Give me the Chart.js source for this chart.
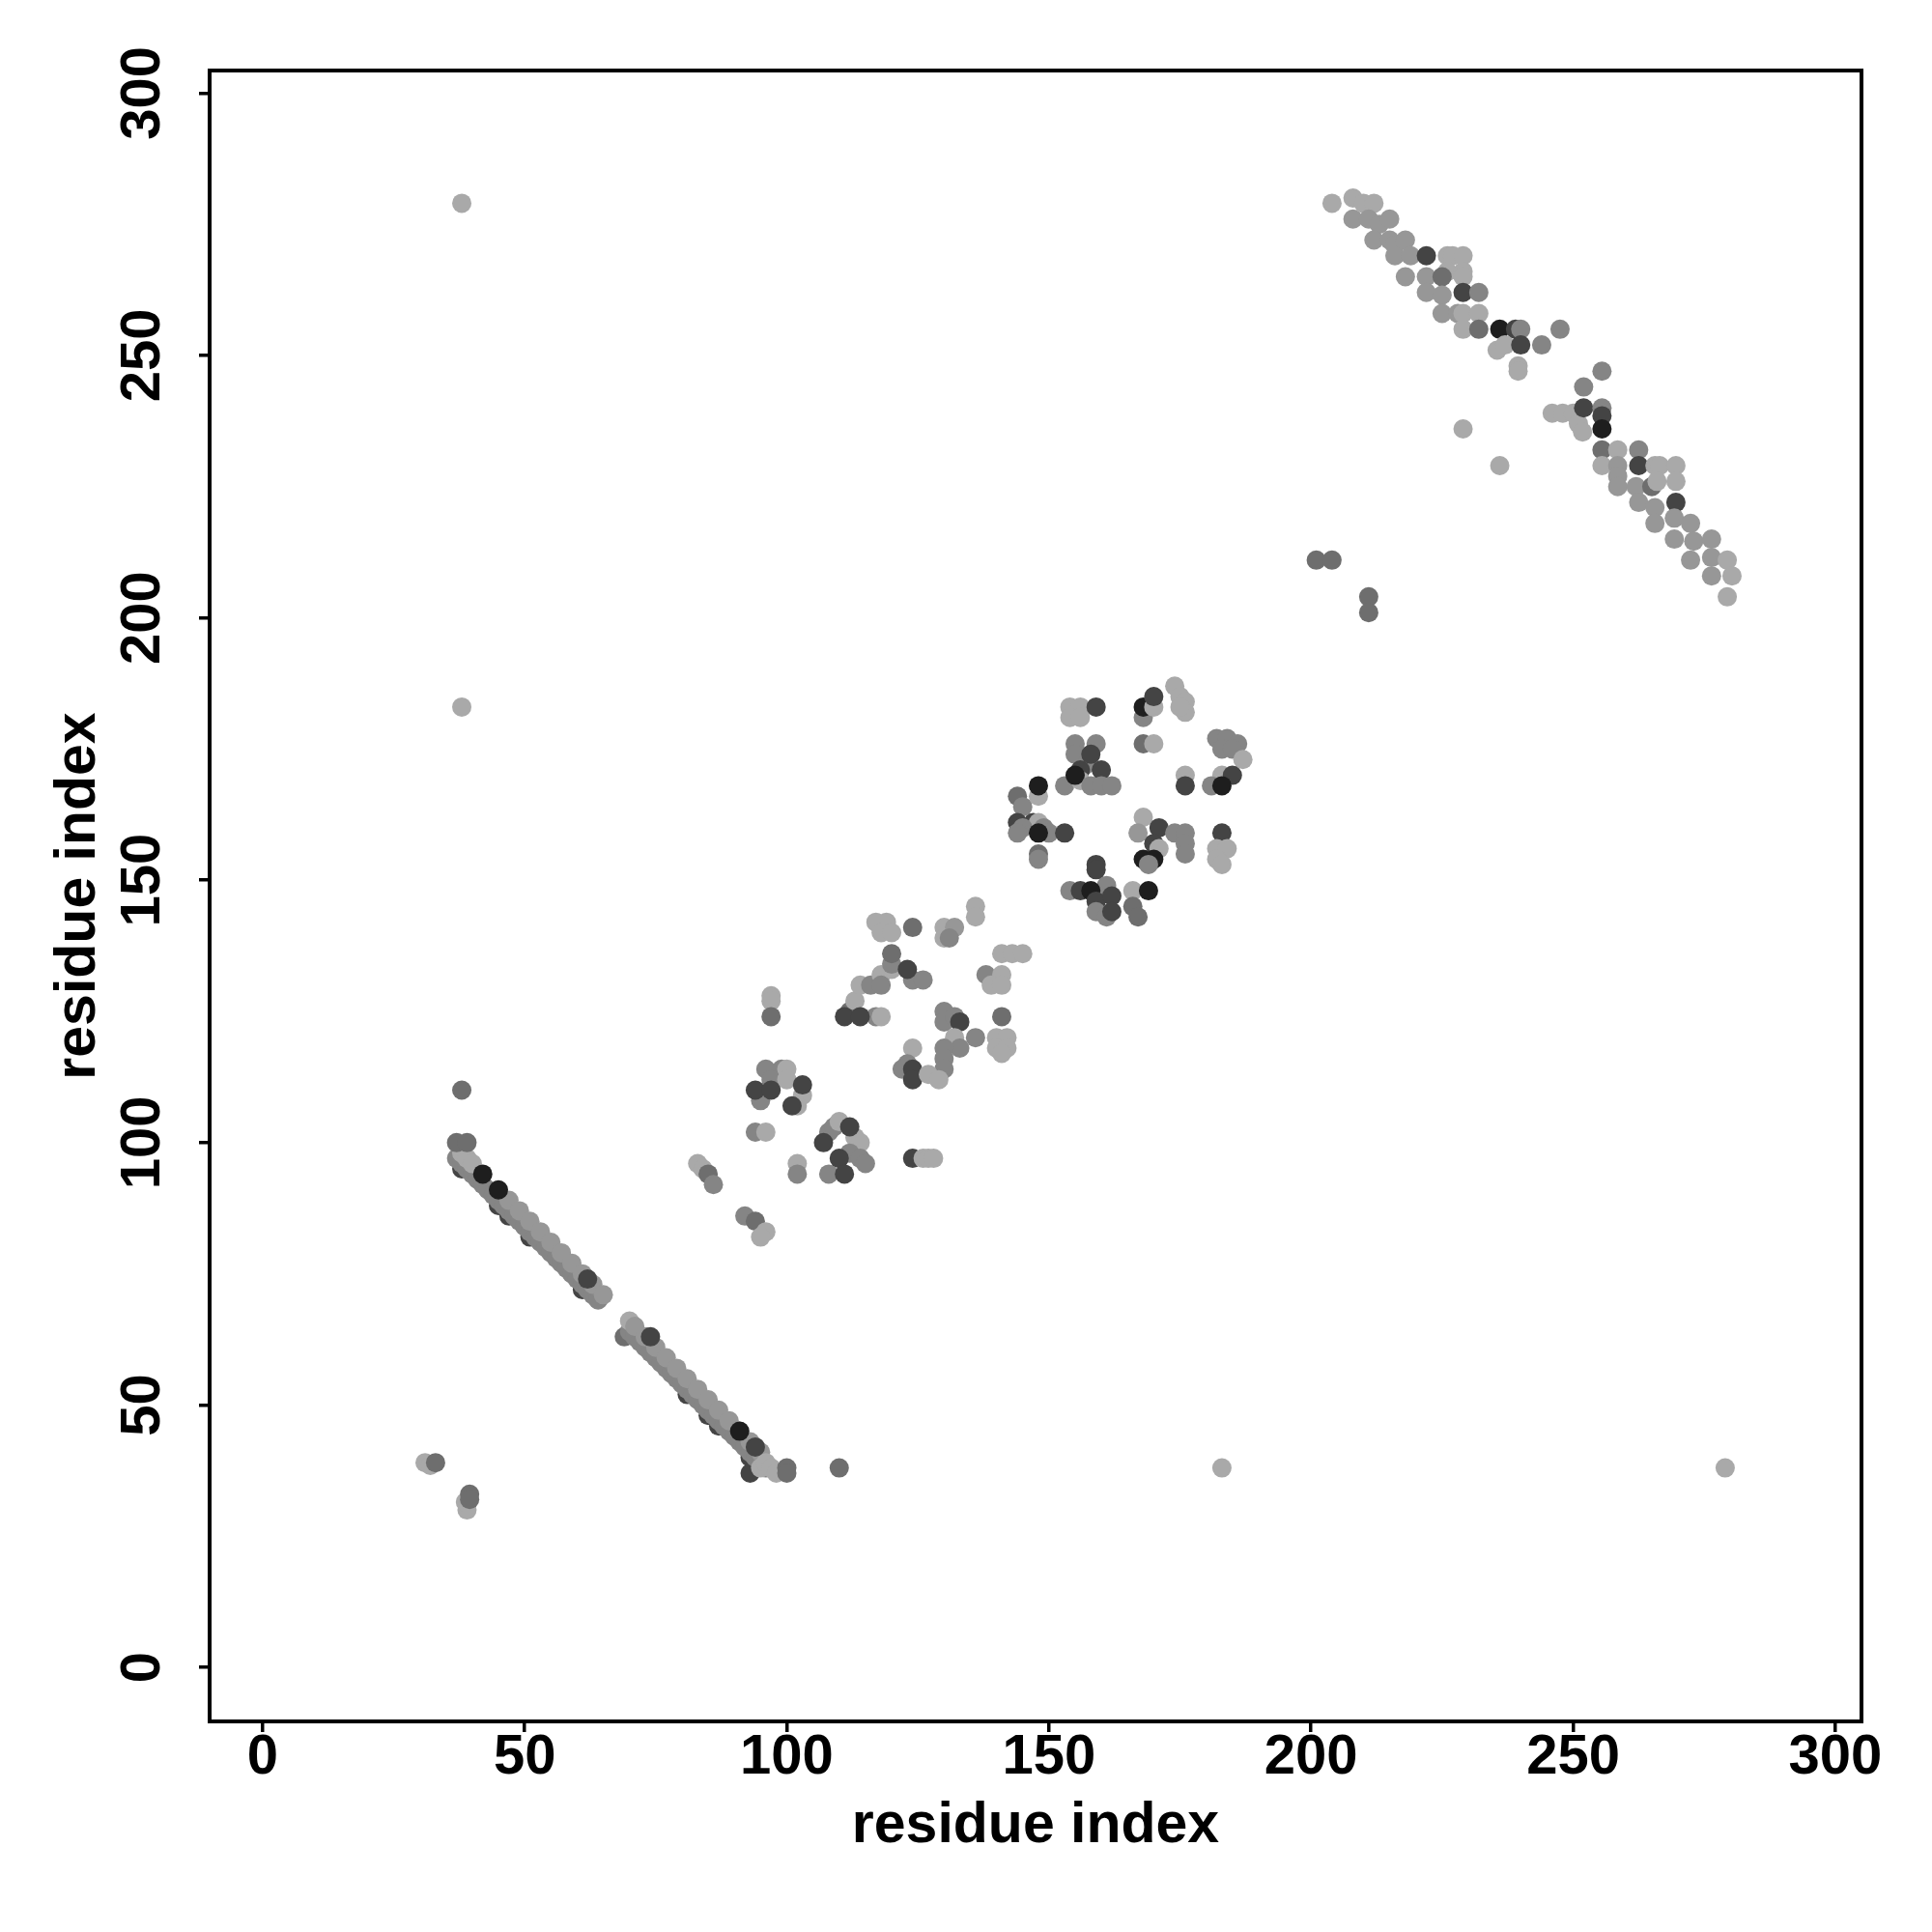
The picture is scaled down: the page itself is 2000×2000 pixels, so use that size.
<!DOCTYPE html>
<html>
<head>
<meta charset="utf-8">
<script src="https://cdn.jsdelivr.net/npm/chart.js@4.4.1/dist/chart.umd.min.js"></script>
<style>
  html, body { margin: 0; padding: 0; background: #fff; }
</style>
</head>
<body>
<canvas id="contactMap" width="2000" height="2000"></canvas>
<script>
// contact pairs: [residue i, residue j, shade class 1 (lightest) .. 6 (black)]
const cornerLow = [
  [31, 39, 1], [32, 38.5, 1], [33, 39, 4], [39, 30, 1], [38.7, 31.5, 1], [39.5, 33, 4], [39.5, 32, 4]
];

const sheetA = [
  [38, 95, 5], [45, 88, 5], [47, 86, 5], [51, 82, 5], [61, 72, 5],
  [37, 97, 3], [38, 96, 3], [39, 95, 3], [40, 94, 3], [41, 93, 3], [42, 92, 3], [43, 91, 3],
  [44, 90, 3], [45, 89, 3], [46, 88, 3], [47, 87, 3], [48, 86, 3], [49, 85, 3], [50, 84, 3],
  [51, 83, 3], [52, 82, 3], [53, 81, 3], [54, 80, 3], [55, 79, 3], [56, 78, 3], [57, 77, 3],
  [58, 76, 3], [59, 75, 3], [60, 74, 3], [61, 73, 3], [62, 72, 3], [63, 71, 3], [64, 70, 3],
  [38, 98, 1], [39, 97, 1], [40, 96, 1], [47, 89, 2], [49, 87, 2], [51, 85, 2], [53, 83, 2],
  [55, 81, 2], [57, 79, 2], [59, 77, 2], [61, 75, 2], [63, 73, 2], [65, 71, 2],
  [42, 94, 6], [45, 91, 6], [62, 74, 5],
  [37, 100, 4], [39, 100, 4], [38, 110, 4]
];

const sheetB = [
  [81, 52, 5], [85, 48, 5], [87, 46, 5], [93, 40, 5], [93, 37, 5],
  [69, 63, 4],
  [70, 64, 3], [71, 63, 3], [72, 62, 3], [73, 61, 3], [74, 60, 3], [75, 59, 3], [76, 58, 3],
  [77, 57, 3], [78, 56, 3], [79, 55, 3], [80, 54, 3], [81, 53, 3], [82, 52, 3], [83, 51, 3],
  [84, 50, 3], [85, 49, 3], [86, 48, 3], [87, 47, 3], [88, 46, 3], [89, 45, 3], [90, 44, 3],
  [91, 43, 3], [92, 42, 3], [93, 41, 3], [94, 40, 3], [95, 39, 3], [96, 38, 3],
  [70, 66, 1], [71, 65, 2], [73, 63, 2], [75, 61, 2], [77, 59, 2], [79, 57, 2], [81, 55, 2],
  [83, 53, 2], [85, 51, 2], [87, 49, 2], [89, 47, 2], [91, 45, 2], [93, 43, 2], [95, 41, 2],
  [95, 38, 1], [96, 39, 1], [97, 38, 1], [98, 37, 1],
  [74, 63, 5], [91, 45, 6], [94, 42, 5],
  [100, 38, 4], [100, 37, 4], [110, 38, 4]
];

const loopLow = [
  [83, 96, 1], [84, 95, 1], [85, 94, 4], [86, 92, 3],
  [92, 86, 3], [94, 85, 4], [96, 83, 1], [95, 82, 1],
  [94, 102, 3], [96, 102, 1],
  [102, 96, 1], [102, 94, 3],
  [96, 114, 3], [99, 114, 3], [100, 114, 1], [97, 112, 3], [100, 112, 1], [95, 108, 3],
  [94, 110, 5], [97, 110, 5], [103, 109, 1], [102, 107, 1], [101, 107, 5], [103, 111, 5],
  [97, 128, 1], [97, 127, 1], [97, 124, 4],
  [108, 102, 3], [109, 103, 3], [110, 104, 1], [113, 101, 1], [114, 100, 1], [112, 98, 3],
  [112, 103, 5], [107, 100, 5], [114, 97, 3], [115, 96, 3], [108, 94, 3], [110, 97, 5], [111, 94, 5],
  [124, 97, 5], [126, 97, 1], [127, 97, 1], [128, 97, 1]
];

const loopMid = [
  [112, 125, 4], [113, 127, 1], [114, 130, 1], [116, 130, 3], [117, 124, 3], [118, 124, 1],
  [111, 124, 5], [114, 124, 5],
  [118, 132, 1], [118, 130, 3], [120, 133, 1], [120, 134, 3], [124, 131, 3], [126, 131, 3], [123, 133, 5],
  [120, 136, 4],
  [117, 142, 1], [119, 142, 1], [118, 140, 1], [120, 140, 1], [124, 141, 4],
  [130, 141, 1], [132, 141, 2], [130, 139, 1], [131, 139, 3],
  [136, 145, 1], [136, 143, 1],
  [141, 136, 1], [143, 136, 1], [145, 136, 1],
  [138, 132, 3], [141, 132, 1], [139, 130, 1], [141, 130, 1],
  [141, 124, 4],
  [140, 120, 1], [142, 120, 1], [140, 118, 1], [142, 118, 1], [141, 117, 1],
  [136, 120, 3],
  [130, 125, 3], [130, 123, 3], [132, 124, 3], [133, 123, 5],
  [132, 120, 1], [133, 118, 3],
  [130, 118, 3], [130, 116, 3], [130, 114, 3],
  [124, 118, 1], [123, 115, 3], [122, 114, 3], [124, 114, 5], [124, 112, 5],
  [127, 113, 1], [129, 112, 1]
];

const loopHigh = [
  [154, 183, 1], [156, 183, 1], [154, 181, 1], [156, 181, 1], [159, 183, 5],
  [168, 181, 3], [168, 183, 6], [170, 183, 1], [170, 185, 5], [174, 187, 1], [175, 185, 1],
  [176, 184, 1], [176, 182, 1], [175, 183, 1],
  [155, 176, 3], [159, 176, 3], [155, 174, 3], [157, 172, 3], [158, 174, 5], [160, 171, 5],
  [156, 171, 5], [153, 168, 3], [156, 169, 1], [155, 170, 6], [158, 168, 3], [160, 168, 3], [162, 168, 3],
  [168, 176, 4], [170, 176, 1],
  [182, 177, 3], [184, 177, 3], [186, 176, 3], [183, 175, 3], [185, 175, 3], [187, 173, 1],
  [183, 170, 1], [185, 170, 5], [181, 168, 3], [183, 168, 6],
  [176, 170, 1], [176, 168, 5],
  [144, 166, 4], [148, 166, 1], [148, 168, 6], [145, 164, 3], [144, 161, 5], [147, 161, 5],
  [148, 161, 1], [145, 160, 3], [144, 159, 3], [149, 160, 3], [150, 159, 3], [148, 159, 6],
  [153, 159, 5], [148, 155, 4], [148, 154, 3],
  [154, 148, 3], [161, 149, 3], [156, 148, 5], [158, 148, 6], [159, 153, 5], [159, 152, 5],
  [159, 146, 5], [159, 144, 3], [161, 143, 3], [162, 147, 5], [162, 144, 5], [166, 148, 1],
  [169, 148, 6], [166, 145, 4], [167, 143, 4],
  [168, 162, 1], [167, 159, 2], [171, 160, 5], [170, 157, 5], [174, 159, 3], [176, 159, 3],
  [176, 157, 3], [176, 155, 3], [171, 156, 1], [168, 154, 6], [170, 154, 6], [169, 153, 3],
  [183, 159, 5], [182, 156, 1], [184, 156, 1], [182, 154, 1], [183, 153, 1]
];

const sheetC = [
  [204, 279, 1], [208, 280, 1], [210, 279, 1], [212, 279, 1],
  [208, 276, 2], [211, 276, 2], [213, 275, 2], [215, 276, 2],
  [212, 272, 2], [215, 272, 2], [216, 271, 2], [218, 272, 2],
  [216, 269, 2], [219, 269, 2],
  [218, 265, 2], [222, 265, 2],
  [226, 269, 1], [227, 269, 1], [229, 269, 1],
  [226, 266, 1], [229, 266, 1], [229, 265, 1],
  [222, 269, 5], [225, 265, 4],
  [222, 262, 2], [225, 261.5, 2],
  [229, 262, 5], [232, 262, 3],
  [225, 258, 2], [228, 258, 2], [229, 258, 1], [232, 258, 1],
  [229, 255, 1], [232, 255, 4], [236, 255, 6], [239, 255, 5], [240, 255, 3], [247.5, 255, 3],
  [235.5, 251, 1], [237, 252, 1], [240, 252, 5], [244, 252, 3],
  [239.5, 248, 1], [239.5, 247, 1],
  [246, 239, 1], [248, 239, 1], [250, 239, 1],
  [255.5, 247, 3], [252, 244, 3],
  [251, 237, 1], [251.8, 235.4, 1], [252, 240, 5], [255.5, 240, 3], [255.5, 238.5, 5], [255.5, 236, 6],
  [255.5, 232, 4], [258.5, 232, 1], [255.5, 229, 1], [258.5, 229, 2], [258.5, 227, 2],
  [262.5, 232, 3], [262.5, 229, 5],
  [265.6, 229, 1], [266.5, 229, 1], [269.6, 229, 1],
  [258.5, 225, 2], [262, 225, 2], [265, 225, 4], [266, 226, 1], [269.6, 226, 1],
  [262.5, 222, 2], [265.6, 221, 2], [269.6, 222, 5],
  [265.6, 218, 2], [269.3, 219, 2], [272.4, 218, 2],
  [269.3, 215, 2], [273, 214.6, 2], [276.4, 215, 2],
  [272.4, 211, 2], [276.4, 211.5, 2], [279.4, 211, 1],
  [276.4, 208, 2], [280.3, 208, 1], [279.4, 204, 1]
];

const strays = [
  [38, 279, 1], [38, 183, 1], [183, 38, 1], [279, 38, 1],
  [201, 211, 4], [204, 211, 4], [211, 204, 4], [211, 201, 4],
  [229, 236, 1], [236, 229, 1]
];

const xTicks = [0, 50, 100, 150, 200, 250, 300];
const yTicks = [0, 50, 100, 150, 200, 250, 300];
const axisTitle = 'residue index';

// shade class -> grey
const shades = ['#a9a9a9', '#979797', '#858585', '#6e6e6e', '#444444', '#1e1e1e'];

const contacts = [].concat(cornerLow, sheetA, sheetB, loopLow, loopMid, loopHigh, sheetC, strays);
const points = contacts.map(c => ({ x: c[0], y: c[1] }));
const colors = contacts.map(c => shades[c[2] - 1]);

const fontFamily = '"Liberation Sans", Arial, Helvetica, sans-serif';

// R style box around the plot region
const frameBox = {
  id: 'frameBox',
  afterDraw(chart) {
    const { ctx, chartArea } = chart;
    ctx.save();
    ctx.strokeStyle = '#000';
    ctx.lineWidth = 4;
    ctx.strokeRect(chartArea.left, chartArea.top,
      chartArea.right - chartArea.left, chartArea.bottom - chartArea.top);
    ctx.restore();
  }
};

const ctx = document.getElementById('contactMap').getContext('2d');
new Chart(ctx, {
  type: 'scatter',
  data: {
    datasets: [{
      label: 'contacts',
      data: points,
      pointRadius: 10,
      pointHoverRadius: 10,
      pointBorderWidth: 0,
      pointBackgroundColor: colors,
      pointBorderColor: colors
    }]
  },
  options: {
    responsive: false,
    animation: false,
    devicePixelRatio: 1,
    layout: { padding: { left: 0, top: 73, right: 73, bottom: 0 } },
    plugins: {
      legend: { display: false },
      tooltip: { enabled: false }
    },
    scales: {
      x: {
        type: 'linear',
        position: 'bottom',
        min: -10.1,
        max: 305,
        afterFit: s => { s.height = 218; },
        afterBuildTicks: s => { s.ticks = xTicks.map(v => ({ value: v })); },
        border: { display: false },
        grid: { drawOnChartArea: false, drawTicks: true, tickLength: 11, lineWidth: 3.5, color: '#000' },
        ticks: {
          includeBounds: false,
          autoSkip: false,
          maxRotation: 0,
          padding: -8,
          color: '#000',
          font: { family: fontFamily, size: 58, weight: 'bold' }
        },
        title: {
          display: true,
          text: axisTitle,
          color: '#000',
          padding: { top: 0, bottom: 74 },
          font: { family: fontFamily, size: 59, weight: 'bold' }
        }
      },
      y: {
        type: 'linear',
        position: 'left',
        min: -10.3,
        max: 304.3,
        afterFit: s => { s.width = 217; },
        afterBuildTicks: s => { s.ticks = yTicks.map(v => ({ value: v })); },
        border: { display: false },
        grid: { drawOnChartArea: false, drawTicks: true, tickLength: 11, lineWidth: 3.5, color: '#000' },
        ticks: {
          includeBounds: false,
          autoSkip: false,
          minRotation: 90,
          maxRotation: 90,
          crossAlign: 'center',
          padding: 9,
          color: '#000',
          font: { family: fontFamily, size: 58, weight: 'bold' }
        },
        title: {
          display: true,
          text: axisTitle,
          color: '#000',
          padding: { top: 46, bottom: 0 },
          font: { family: fontFamily, size: 59, weight: 'bold' }
        }
      }
    }
  },
  plugins: [frameBox]
});
</script>
</body>
</html>
